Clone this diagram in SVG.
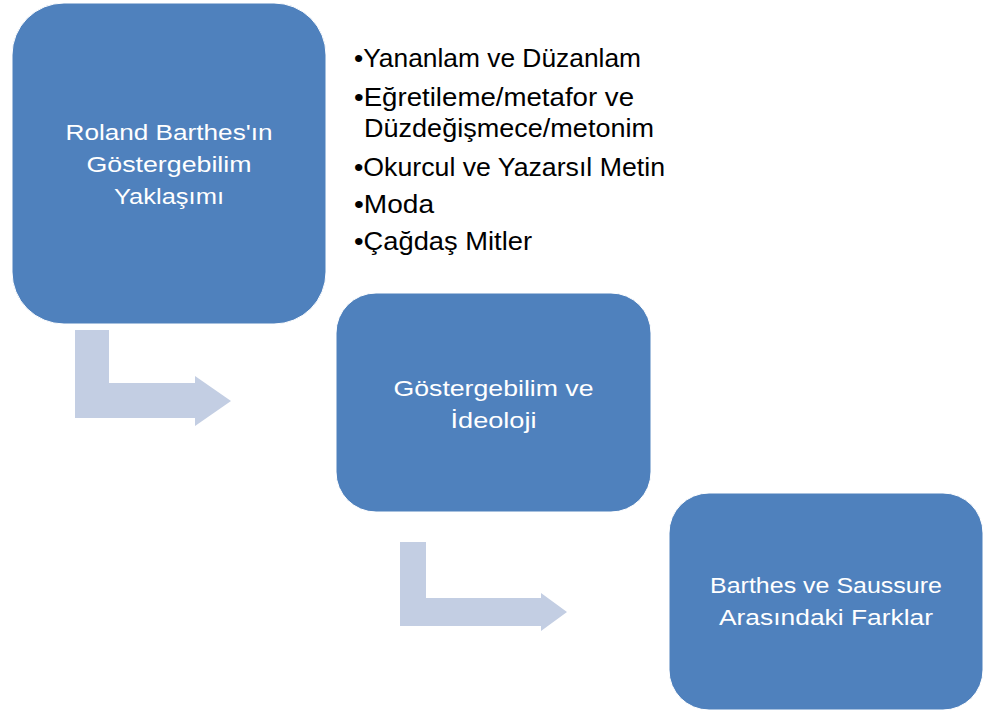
<svg xmlns="http://www.w3.org/2000/svg" width="987" height="713" viewBox="0 0 987 713">
<style>
.box{fill:#4F81BD;stroke:#FFFFFF;stroke-width:1}
.arrow{fill:#C3CEE3}
.bt{font-family:"Liberation Sans",Arial,sans-serif;font-size:22.5px;fill:#FFFFFF;text-anchor:middle}
.li{font-family:"Liberation Sans",Arial,sans-serif;font-size:25px;fill:#000000}
</style>
<rect width="987" height="713" fill="#FFFFFF"/>
<g id="connectors">
<polygon class="arrow" points="75,330 109,330 109,383 195,383 195,376 231,401 195,426 195,418 75,418"/>
<polygon class="arrow" points="400,542 426,542 426,598 541,598 541,593 567,612 541,631 541,626 400,626"/>
</g>
<g id="node1">
<rect class="box" x="12" y="3" width="314" height="321" rx="52" ry="52"/>
<text class="bt" x="169" y="139.5" textLength="207" lengthAdjust="spacingAndGlyphs">Roland Barthes'ın</text>
<text class="bt" x="169" y="171.5" textLength="165" lengthAdjust="spacingAndGlyphs">Göstergebilim</text>
<text class="bt" x="169" y="203.5" textLength="110" lengthAdjust="spacingAndGlyphs">Yaklaşımı</text>
</g>
<g id="node1-list">
<text class="li" x="354" y="67" textLength="287" lengthAdjust="spacingAndGlyphs">•Yananlam ve Düzanlam</text>
<text class="li" x="354" y="106" textLength="280" lengthAdjust="spacingAndGlyphs">•Eğretileme/metafor ve</text>
<text class="li" x="364" y="137" textLength="290" lengthAdjust="spacingAndGlyphs">Düzdeğişmece/metonim</text>
<text class="li" x="354" y="176" textLength="311" lengthAdjust="spacingAndGlyphs">•Okurcul ve Yazarsıl Metin</text>
<text class="li" x="354" y="213" textLength="80" lengthAdjust="spacingAndGlyphs">•Moda</text>
<text class="li" x="354" y="250" textLength="178" lengthAdjust="spacingAndGlyphs">•Çağdaş Mitler</text>
</g>
<g id="node2">
<rect class="box" x="336" y="293" width="315" height="219" rx="40" ry="40"/>
<text class="bt" x="493.5" y="396" textLength="200" lengthAdjust="spacingAndGlyphs">Göstergebilim ve</text>
<text class="bt" x="493.5" y="428" textLength="86" lengthAdjust="spacingAndGlyphs">İdeoloji</text>
</g>
<g id="node3">
<rect class="box" x="669" y="493" width="314" height="217" rx="40" ry="40"/>
<text class="bt" x="826" y="593" textLength="232" lengthAdjust="spacingAndGlyphs">Barthes ve Saussure</text>
<text class="bt" x="826" y="625" textLength="214" lengthAdjust="spacingAndGlyphs">Arasındaki Farklar</text>
</g>
</svg>
